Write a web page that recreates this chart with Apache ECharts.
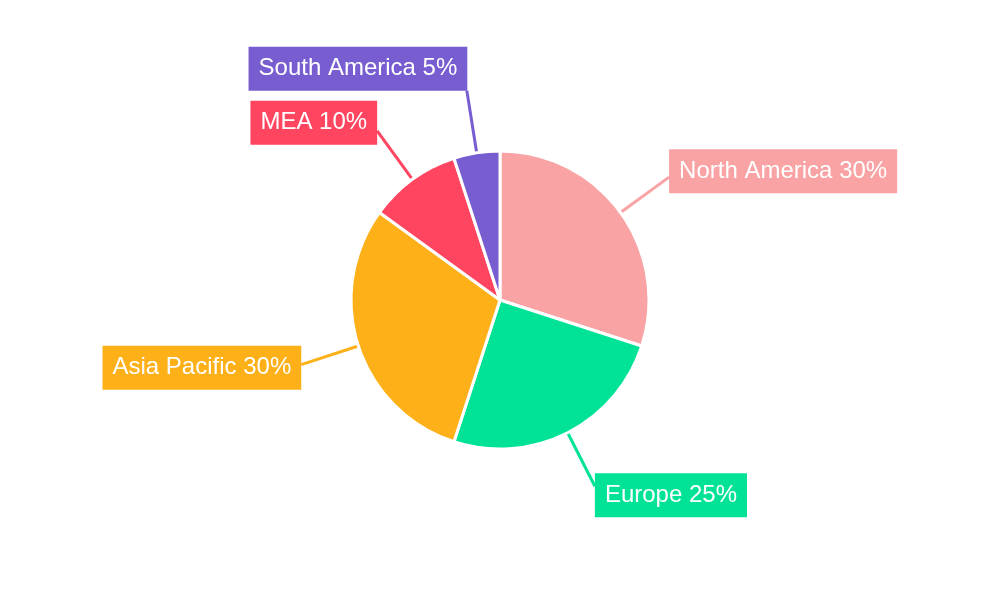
<!DOCTYPE html>
<html>
<head>
<meta charset="utf-8">
<script src="https://cdn.jsdelivr.net/npm/echarts@6/dist/echarts.min.js"></script>
<style>html,body{margin:0;padding:0;background:#fff}#c{width:1000px;height:600px}</style>
</head>
<body>
<div id="c"></div>
<script>
const categories = ['North America', 'Europe', 'Asia Pacific', 'MEA', 'South America'];
const values = [30, 25, 30, 10, 5];
const colors = ['#F9A3A4', '#00E396', '#FEB019', '#FF4560', '#775DD0'];

const chart = echarts.init(document.getElementById('c'), null, {renderer: 'canvas'});

// first pass: collect default label geometry
const cache = {};
function collect(params) {
  cache[params.dataIndex] = {
    pts: params.labelLinePoints.map(p => [p[0], p[1]]),
    w: params.labelRect.width,
    h: params.labelRect.height
  };
  return {};
}

const baseSeries = {
  type: 'pie',
  center: ['50%', '50%'],
  radius: 149,
  startAngle: 90,
  clockwise: true,
  avoidLabelOverlap: false,
  data: categories.map((c, i) => ({
    name: c,
    value: values[i],
    itemStyle: {color: colors[i]},
    label: {backgroundColor: colors[i]},
    labelLine: {lineStyle: {color: colors[i]}}
  })),
  itemStyle: {borderColor: '#ffffff', borderWidth: 3},
  label: {
    show: true,
    position: 'outside',
    formatter: p => p.name + ' ' + p.value + '%',
    color: '#ffffff',
    fontSize: 24,
    fontFamily: 'Liberation Sans, Arial, sans-serif',
    padding: [8, 10, 8, 10],
    lineHeight: 28,
    distanceToLabelLine: 0
  },
  labelLine: {
    show: true,
    length: 60,
    length2: 0,
    smooth: false,
    lineStyle: {width: 3}
  },
  labelLayout: collect
};

chart.setOption({animation: false, backgroundColor: '#ffffff', series: [baseSeries]});

// compute final label boxes
const boxes = {};
const cy = chart.getHeight() / 2;
Object.keys(cache).forEach(k => {
  const g = cache[k];
  const s = g.pts[0], e = g.pts[1];
  const dx = e[0] - s[0], dy = e[1] - s[1];
  const len = Math.hypot(dx, dy);
  const ux = dx / len, uy = dy / len;
  const right = ux >= 0;
  const centerY = e[1] + 10 * uy;
  boxes[k] = {
    right, ux, uy, s, e, w: g.w, h: g.h,
    x: right ? e[0] : e[0] - g.w,
    y: centerY - g.h / 2
  };
});
const gap = 10;
[true, false].forEach(side => {
  const list = Object.values(boxes).filter(b => b.right === side);
  const upper = list.filter(b => b.y + b.h / 2 < cy).sort((a, b) => b.y - a.y);
  for (let i = 1; i < upper.length; i++) {
    const lim = upper[i - 1].y - gap;
    if (upper[i].y + upper[i].h > lim) upper[i].y = lim - upper[i].h;
  }
  const lower = list.filter(b => b.y + b.h / 2 >= cy).sort((a, b) => a.y - b.y);
  for (let i = 1; i < lower.length; i++) {
    const lim = lower[i - 1].y + lower[i - 1].h + gap;
    if (upper.length >= 0 && lower[i].y < lim) lower[i].y = lim;
  }
});
function inside(b, p) {
  return p[0] >= b.x && p[0] <= b.x + b.w && p[1] >= b.y && p[1] <= b.y + b.h;
}
Object.values(boxes).forEach(b => {
  let p = [b.e[0], b.e[1]];
  for (let t = 0; t < 60 && !inside(b, p); t += 0.5) {
    p = [b.e[0] + b.ux * t, b.e[1] + b.uy * t];
  }
  b.end = p;
});

chart.setOption({
  series: [{
    labelLayout: params => {
      const b = boxes[params.dataIndex];
      return {
        x: b.x,
        y: b.y,
        align: 'left',
        verticalAlign: 'top',
        labelLinePoints: [b.s, b.end]
      };
    }
  }]
});
</script>
</body>
</html>
